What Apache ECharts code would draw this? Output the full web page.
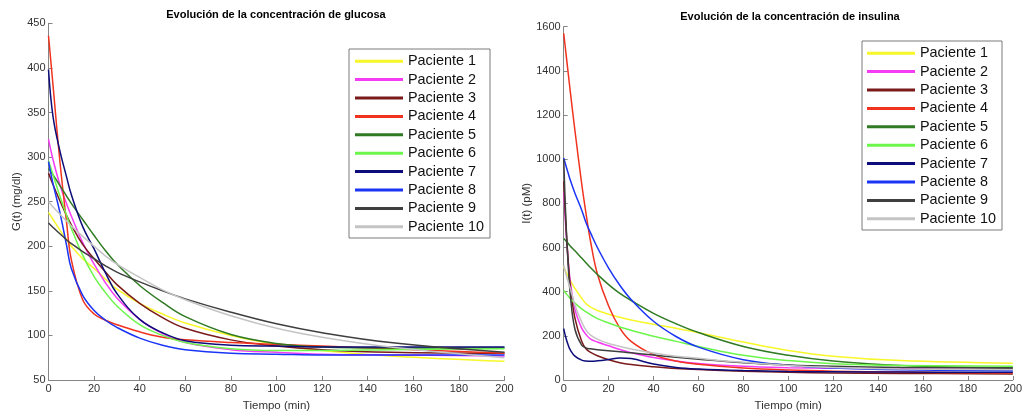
<!DOCTYPE html>
<html>
<head>
<meta charset="utf-8">
<script src="https://cdn.jsdelivr.net/npm/echarts@6/dist/echarts.min.js"></script>
<style>
html,body{margin:0;padding:0;background:#fff;}
#c{width:1025px;height:417px;}
</style>
</head>
<body>
<div id="c"></div>
<script>
// ---------- data ----------
const patientNames = ['Paciente 1','Paciente 2','Paciente 3','Paciente 4','Paciente 5','Paciente 6','Paciente 7','Paciente 8','Paciente 9','Paciente 10'];
const patientColors = ['#f7f72a','#f53cf5','#7a1a1a','#f0321e','#2f7a22','#6cf54a','#0c0c7a','#1a35f5','#3f3f3f','#c4c4c4'];

// Glucose (mg/dl)
const timeG = [0,2,5,8,10,15,20,25,30,40,50,60,80,100,120,150,200];
const gP1  = [238,230,218,207,200,186,175,163,152,136,124,114,100,90,83,77,71];
const gP2  = [320,297,269,247,234,204,180,159,142,118,102,92,84,81,79,78,77];
const gP3  = [282,269,251,234,224,202,186,171,157,136,120,108,95,88,84,81,80];
const gP4  = [436,380,295,225,185,140,124,117,112,104,98,95,92,90,88,85,80];
const gP5  = [287,280,268,256,248,230,212,195,180,156,137,121,101,91,87,86,86];
const gP6  = [296,280,256,234,220,190,166,148,133,112,100,92,85,83,83,84,85];
const gP7  = [398,345,307,277,258,222,197,170,147,118,103,94,89,88,87,87,87];
const gP8  = [295,270,238,200,175,145,128,117,109,97,89,84,80,79,78,78,78];
const gP9  = [226,221,214,207,203,194,186,178,171,160,150,141,126,113,103,92,81];
const gP10 = [250,244,236,228,223,211,200,189,180,165,151,140,122,108,98,87,75];

// Insulin (pM)
const timeI = [0,1,2,3,5,8,10,12,15,20,25,30,40,50,60,80,100,120,150,200];
const iP1  = [510,490,470,450,415,370,345,330,315,298,284,272,252,234,214,172,134,108,88,76];
const iP2  = [850,680,540,440,320,235,205,185,172,155,138,124,102,86,75,62,56,53,51,49];
const iP3  = [900,700,540,420,280,175,140,125,110,92,78,70,60,52,47,40,35,32,30,27];
const iP4  = [1570,1480,1390,1300,1130,890,750,625,480,335,235,175,115,86,71,54,45,40,36,32];
const iP5  = [641,630,618,606,585,552,530,508,478,432,392,360,302,255,215,152,112,86,66,55];
const iP6  = [405,392,380,368,348,322,308,295,278,258,240,225,198,175,152,112,88,74,66,62];
const iP7  = [233,190,158,135,108,90,86,85,87,93,100,97,72,57,50,43,39,37,36,35];
const iP8  = [1006,970,936,903,846,770,711,665,600,507,429,365,266,197,149,92,67,54,46,42];
const iP9  = [1000,720,520,380,230,158,145,141,137,132,128,123,113,103,94,78,68,62,57,54];
const iP10 = [520,480,445,412,340,262,225,203,185,165,152,140,122,108,98,80,66,57,50,46];

const glucose = [gP1,gP2,gP3,gP4,gP5,gP6,gP7,gP8,gP9,gP10];
const insulin = [iP1,iP2,iP3,iP4,iP5,iP6,iP7,iP8,iP9,iP10];

const xTicks = {min:0,max:200,interval:20};
const gTicks = {min:50,max:450,interval:50};
const iTicks = {min:0,max:1600,interval:200};

// ---------- chart ----------
const FONT = '"Liberation Sans", Arial, Helvetica, sans-serif';
const axisCommon = {
  axisLine:{show:true,lineStyle:{color:'#858585',width:1}},
  axisTick:{show:true,inside:true,length:4,lineStyle:{color:'#858585'}},
  axisLabel:{color:'#333',fontSize:11,fontFamily:FONT,margin:3,formatter:v=>String(v)},
  splitLine:{show:false},
  nameTextStyle:{color:'#333',fontSize:11.5,fontFamily:FONT}
};

function mkSeries(arrs, times, idx){
  return arrs.map((vals,k)=>({
    name: patientNames[k],
    type:'line',
    xAxisIndex:idx, yAxisIndex:idx,
    data: times.map((t,j)=>[t, vals[j]]),
    smooth:0.4,
    showSymbol:false,
    symbol:'none',
    color: patientColors[k],
    lineStyle:{width:1.5,color:patientColors[k]},
    emphasis:{disabled:true},
    animation:false,
    z: 2
  }));
}

const legendCommon = {
  orient:'vertical',
  data: patientNames.map(n=>({name:n,icon:'rect'})),
  itemWidth:48, itemHeight:3, itemGap:0,
  borderColor:'#7a7a7a', borderWidth:1,
  backgroundColor:'#fff',
  textStyle:{fontSize:14.4,lineHeight:18.4,color:'#111',fontFamily:FONT},
  selectedMode:false
};

const chart = echarts.init(document.getElementById('c'), null, {renderer:'canvas'});
chart.setOption({
  backgroundColor:'#ffffff',
  animation:false,
  title:[
    {text:'Evolución de la concentración de glucosa',left:276,top:9,padding:0,textAlign:'center',
     textStyle:{fontSize:11,fontWeight:'bold',color:'#000',fontFamily:FONT}},
    {text:'Evolución de la concentración de insulina',left:790,top:11,padding:0,textAlign:'center',
     textStyle:{fontSize:11,fontWeight:'bold',color:'#000',fontFamily:FONT}}
  ],
  legend:[
    Object.assign({left:349,top:49,padding:[3,6,2,6]},legendCommon),
    Object.assign({left:862,top:41,padding:[3,6,2,5]},legendCommon)
  ],
  grid:[
    {left:48.5,right:520.5,top:23.3,bottom:32.7,containLabel:false},
    {left:563.7,right:9,top:26.7,bottom:33.3,containLabel:false}
  ],
  xAxis:[
    Object.assign({type:'value',gridIndex:0,name:'Tiempo (min)',nameLocation:'middle',nameGap:20},xTicks,axisCommon),
    Object.assign({type:'value',gridIndex:1,name:'Tiempo (min)',nameLocation:'middle',nameGap:20},xTicks,axisCommon)
  ],
  yAxis:[
    Object.assign({type:'value',gridIndex:0,name:'G(t) (mg/dl)',nameLocation:'middle',nameGap:26},gTicks,axisCommon),
    Object.assign({type:'value',gridIndex:1,name:'I(t) (pM)',nameLocation:'middle',nameGap:27},iTicks,axisCommon)
  ],
  series:[...mkSeries(glucose,timeG,0), ...mkSeries(insulin,timeI,1)]
});
</script>
</body>
</html>
